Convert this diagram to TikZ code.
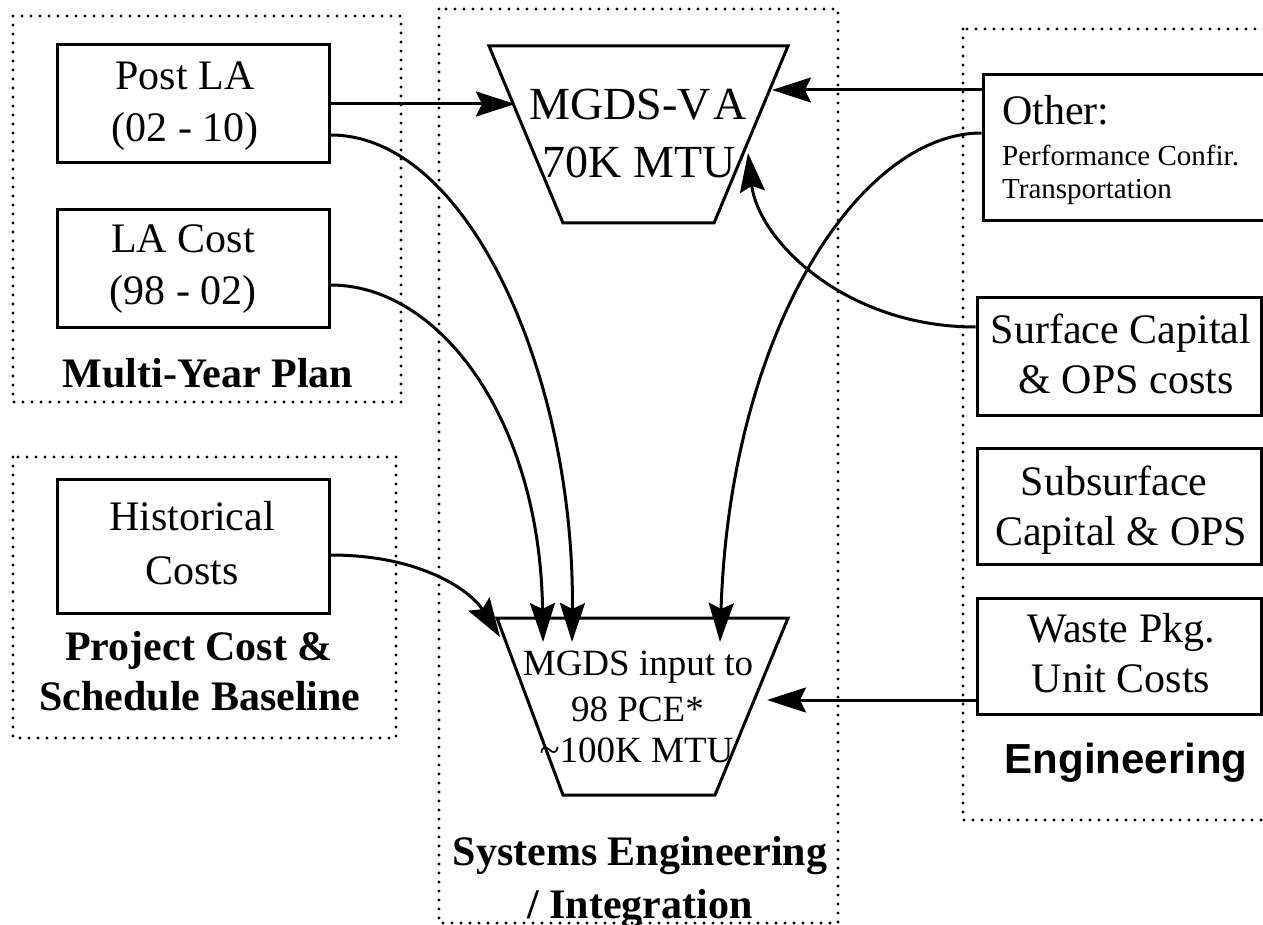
\documentclass[tikz,border=0pt]{standalone}
\usepackage{fontspec}
\setmainfont{Liberation Serif}
\newfontfamily\hv{Liberation Sans}
\usetikzlibrary{arrows.meta}
\tikzset{
  box/.style={draw, rectangle, line width=3pt, inner sep=0pt},
  dotbox/.style={line width=3.2pt, dash pattern=on 0pt off 9pt, line cap=round},
  trap/.style={draw, line width=3pt, line join=miter},
  arr/.style={line width=3pt, -{Stealth[length=39pt,width=25pt,inset=6pt]}},
  txt/.style={anchor=base, inner sep=0pt, font=\fontsize{42}{50}\selectfont},
  txtsmall/.style={anchor=base west, inner sep=0pt, font=\fontsize{29}{33}\selectfont},
  txtva/.style={anchor=base, inner sep=0pt, font=\fontsize{46}{55}\selectfont},
  txtpce/.style={anchor=base, inner sep=0pt, font=\fontsize{37}{44}\selectfont},
  grp/.style={anchor=base, inner sep=0pt, font=\fontsize{42}{50}\selectfont\bfseries},
  grpsans/.style={anchor=base, inner sep=0pt, font=\fontsize{42}{50}\selectfont\hv\bfseries}
}
\begin{document}
\begin{tikzpicture}[x=1pt,y=-1pt]
\useasboundingbox (0,0) rectangle (1263,925);

% dotted group frames
\draw[dotbox] (13,16) rectangle (401,402);
\draw[dotbox] (439,9) rectangle (838,923);
\draw[dotbox] (963,29) rectangle (1290,820);
\draw[dotbox] (13,457) rectangle (396,738);

% solid boxes
\node[box, minimum width=272pt, minimum height=118pt] (postla) at (193,104) {};
\node[box, minimum width=272pt, minimum height=117pt] (lacost) at (193,268.5) {};
\node[box, minimum width=272pt, minimum height=134pt] (hist) at (193,546) {};
\node[box, minimum width=297pt, minimum height=146pt] (other) at (1131.5,148) {};
\node[box, minimum width=284pt, minimum height=118pt] (surf) at (1119,356) {};
\node[box, minimum width=284pt, minimum height=116pt] (subs) at (1119,506) {};
\node[box, minimum width=284pt, minimum height=116pt] (waste) at (1119,656) {};

% trapezoids
\draw[trap] (489,46) -- (788,46) -- (714,223) -- (563,223) -- cycle;
\draw[trap] (497,618) -- (788,618) -- (715,795) -- (563,795) -- cycle;

% box texts
\node[txt] (postla1) at (185,90) {Post LA};
\node[txt] (postla2) at (185,142) {(02 - 10)};
\node[txt] (lacost1) at (183,253) {LA Cost};
\node[txt] (lacost2) at (183,305) {(98 - 02)};
\node[txt] (hist1) at (192,530) {Historical};
\node[txt] (hist2) at (192,584) {Costs};
\node[txt, anchor=base west] (other1) at (1002,125) {Other:};
\node[txtsmall] (other2) at (1002,166) {Performance Confir.};
\node[txtsmall] (other3) at (1002,199) {Transportation};
\node[txt] (surf1) at (1121,343) {Surface Capital};
\node[txt] (surf2) at (1126,393) {\& OPS costs};
\node[txt] (subs1) at (1114,495) {Subsurface};
\node[txt] (subs2) at (1121,545) {Capital \& OPS};
\node[txt] (waste1) at (1121,642) {Waste Pkg.};
\node[txt] (waste2) at (1121,692) {Unit Costs};

% trapezoid texts
\node[txtva] (va1) at (638,120) {MGDS-V\hspace{3pt}A};
\node[txtva] (va2) at (639,178) {70K MTU};
\node[txtpce] (pce1) at (638,675) {MGDS input to};
\node[txtpce] (pce2) at (637.5,721) {98 PCE*};
\node[txtpce] (pce3) at (636.5,762) {\textasciitilde100K MTU};

% group labels
\node[grp] (mp) at (208,387) {Multi-Year Plan};
\node[grp] (pc1) at (199,660) {Project Cost \&};
\node[grp] (pc2) at (200,710) {Schedule Baseline};
\node[grp] (se1) at (640,865) {Systems Engineering};
\node[grp] (se2) at (640,918) {/ Integration};
\node[grpsans] (eng) at (1126,773) {Engineering};

% arrow end points on the trapezoids
\coordinate (vaL) at (515,104);
\coordinate (vaR) at (772,90);
\coordinate (vaS) at (748,153);
\coordinate (pceA) at (572,642);
\coordinate (pceB) at (543,642);
\coordinate (pceC) at (500,637);
\coordinate (pceD) at (720,642);
\coordinate (pceR) at (767,700);

% connectors
\draw[arr] (postla.east) -- (vaL);
\draw[arr] ([yshift=58pt]other.west) -- (vaR);
\draw[arr] ([yshift=29pt]surf.west) .. controls (845,327) and (758,240) .. (vaS);
\draw[arr] ([yshift=-31pt]postla.east) .. controls (470,135) and (575,380) .. (pceA);
\draw[arr] ([yshift=-16.5pt]lacost.east) .. controls (440,285) and (540,420) .. (pceB);
\draw[arr] ([yshift=-9pt]hist.east) .. controls (420,555) and (470,590) .. (pceC);
\draw[arr] ([yshift=15pt]other.west) .. controls (860,133) and (730,330) .. (pceD);
\draw[arr] ([yshift=-44pt]waste.west) -- (pceR);
\end{tikzpicture}
\end{document}
